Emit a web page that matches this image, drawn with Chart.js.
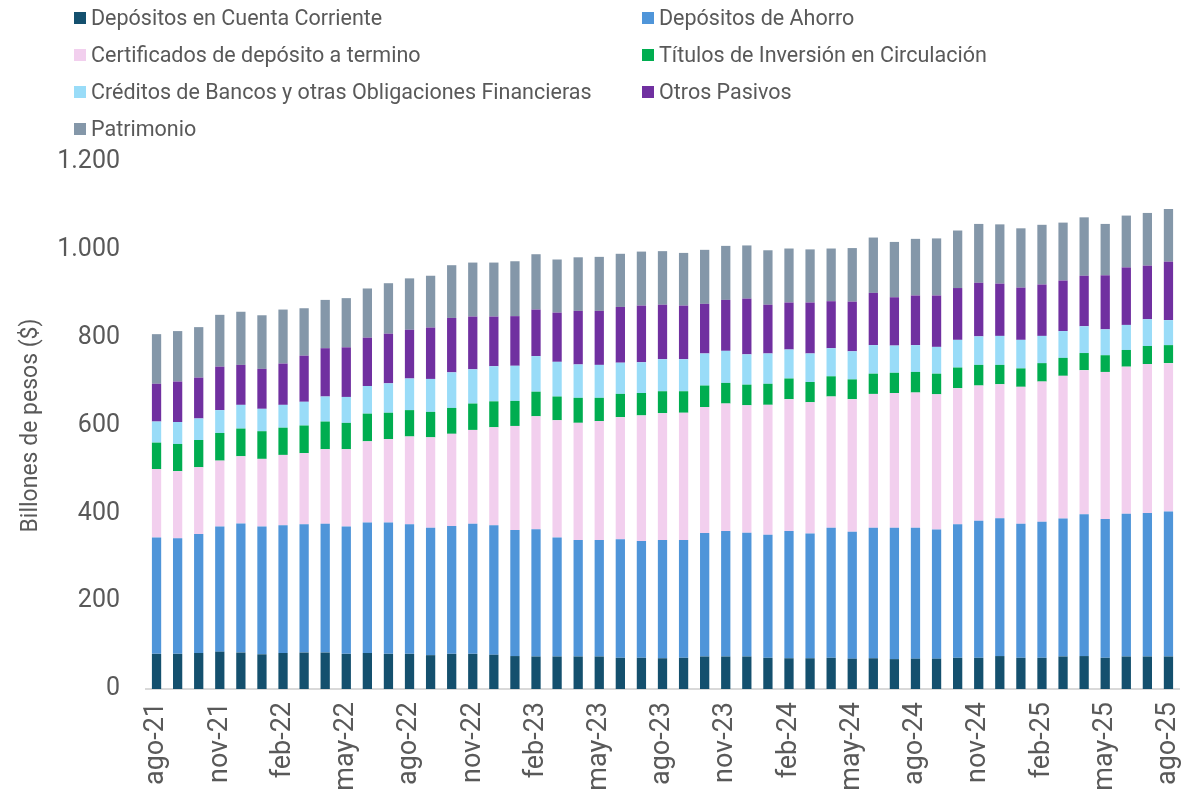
<!DOCTYPE html>
<html>
<head>
<meta charset="utf-8">
<script src="https://cdn.jsdelivr.net/npm/chart.js@4.4.1/dist/chart.umd.min.js"></script>
<style>
  html, body { margin: 0; padding: 0; background: #ffffff; }
  #wrap { position: relative; width: 1181px; height: 793px; overflow: hidden; font-family: Roboto, "Noto Sans", sans-serif; }
  #c { position: absolute; left: 0; top: 0; }
  .lg { position: absolute; height: 24px; line-height: 24px; font-size: 21.5px; color: #595959; white-space: nowrap; }
  .lg span.sq { position: absolute; left: 0; top: 6px; width: 12px; height: 12px; }
  .lg span.tx { position: absolute; left: 17px; top: 0; }
</style>
</head>
<body>
<div id="wrap">
  <canvas id="c" width="1181" height="793"></canvas>
  <div id="legend"></div>
</div>
<script>
const labels = ["ago-21","sep-21","oct-21","nov-21","dic-21","ene-22","feb-22","mar-22","abr-22","may-22","jun-22","jul-22",
  "ago-22","sep-22","oct-22","nov-22","dic-22","ene-23","feb-23","mar-23","abr-23","may-23","jun-23","jul-23",
  "ago-23","sep-23","oct-23","nov-23","dic-23","ene-24","feb-24","mar-24","abr-24","may-24","jun-24","jul-24",
  "ago-24","sep-24","oct-24","nov-24","dic-24","ene-25","feb-25","mar-25","abr-25","may-25","jun-25","jul-25","ago-25"];

const cuentaCorriente = [80,80,82,85,83,79,82,83,83,80,82,80,80,77,80,80,78,75,74,74,74,74,71,71,70,71,74,74,74,71,70,70,71,69,70,68,69,69,71,71,75,71,71,74,75,71,74,74,74];
const ahorro = [265,263,271,285,294,291,291,292,293,290,297,299,295,290,291,296,295,287,290,271,265,265,270,266,269,268,281,286,282,280,290,284,296,289,297,299,298,294,304,312,314,305,310,314,323,316,325,327,330];
const cdt = [156,153,152,150,153,154,160,162,170,176,185,190,200,206,210,214,223,237,257,267,267,271,278,286,289,290,287,290,290,296,300,299,299,302,305,307,308,308,310,308,305,312,319,325,328,335,335,339,338];
const titulos = [60,62,62,63,63,63,62,63,63,60,63,60,60,58,59,60,59,57,56,54,57,53,53,51,50,49,49,47,47,48,47,46,46,45,46,46,47,47,47,47,44,42,42,41,39,38,38,41,41];
const creditos = [48,50,49,52,54,51,52,54,57,59,63,67,72,75,81,78,80,80,81,79,76,75,71,70,73,73,73,73,69,69,66,65,64,64,65,62,61,61,63,65,66,65,62,61,61,59,57,61,57];
const otrosPasivos = [86,92,93,99,91,91,94,105,110,113,110,113,111,117,124,120,113,113,106,112,122,123,127,129,124,122,113,116,127,111,107,116,107,113,119,110,113,117,118,122,119,119,117,115,115,123,131,122,133];
const patrimonio = [113,115,115,118,121,122,123,108,110,112,112,115,117,118,120,123,123,125,126,121,122,123,121,123,122,120,123,123,121,124,123,121,120,122,126,126,129,130,131,134,135,135,136,132,133,117,118,120,120];

const seriesNames = ["Depósitos en Cuenta Corriente","Depósitos de Ahorro","Certificados de depósito a termino","Títulos de Inversión en Circulación","Créditos de Bancos y otras Obligaciones Financieras","Otros Pasivos","Patrimonio"];
const seriesColors = ["#14506e","#4f95d9","#f2cfee","#00ad50","#99dcf8","#7030a0","#8497a9"];
const seriesData = [cuentaCorriente, ahorro, cdt, titulos, creditos, otrosPasivos, patrimonio];
const yTicks = [0,200,400,600,800,1000,1200];

// HTML legend (two columns)
const legend = document.getElementById('legend');
const legendPos = [[74,6],[642,6],[74,43],[642,43],[74,80],[642,80],[74,117]];
seriesNames.forEach((n,i)=>{
  const d = document.createElement('div');
  d.className = 'lg';
  d.style.left = legendPos[i][0] + 'px';
  d.style.top = legendPos[i][1] + 'px';
  d.innerHTML = '<span class="sq" style="background:'+seriesColors[i]+'"></span><span class="tx"></span>';
  d.querySelector('.tx').textContent = n;
  legend.appendChild(d);
});

const fmt = v => v.toString().replace(/\B(?=(\d{3})+(?!\d))/g, '.');

new Chart(document.getElementById('c'), {
  type: 'bar',
  data: {
    labels: labels,
    datasets: seriesNames.map((n,i)=>({
      label: n,
      data: seriesData[i],
      backgroundColor: seriesColors[i],
      borderWidth: 0,
      barPercentage: 0.44,
      categoryPercentage: 1.0
    }))
  },
  options: {
    responsive: false,
    animation: false,
    layout: { padding: { top: 162, right: 2, left: 0, bottom: 0 } },
    plugins: { legend: { display: false }, tooltip: { enabled: false } },
    scales: {
      x: {
        stacked: true,
        grid: { display: false, drawTicks: false },
        border: { display: true, color: '#d9d9d9', width: 2 },
        ticks: {
          autoSkip: false,
          maxRotation: 90,
          minRotation: 90,
          padding: 13,
          color: '#595959',
          font: { family: 'Roboto', size: 27 },
          callback: function(v, i) { return i % 3 === 0 ? labels[i] : ''; }
        },
        afterFit: function(s) { s.height = 104; s.paddingLeft = 0; s.paddingRight = 0; }
      },
      y: {
        stacked: true,
        min: 0,
        max: 1200,
        grid: { display: false, drawTicks: false },
        border: { display: false },
        afterBuildTicks: function(s) { s.ticks = yTicks.map(v=>({value:v})); },
        ticks: {
          padding: 26,
          color: '#595959',
          font: { family: 'Roboto', size: 25 },
          callback: function(v) { return fmt(v); }
        },
        title: {
          display: true,
          text: 'Billones de pesos ($)',
          color: '#595959',
          font: { family: 'Roboto', size: 23 },
          padding: { top: 17, bottom: 0 }
        },
        afterFit: function(s) { s.width = 146; s.paddingTop = 0; s.paddingBottom = 0; }
      }
    }
  }
});
</script>
</body>
</html>
